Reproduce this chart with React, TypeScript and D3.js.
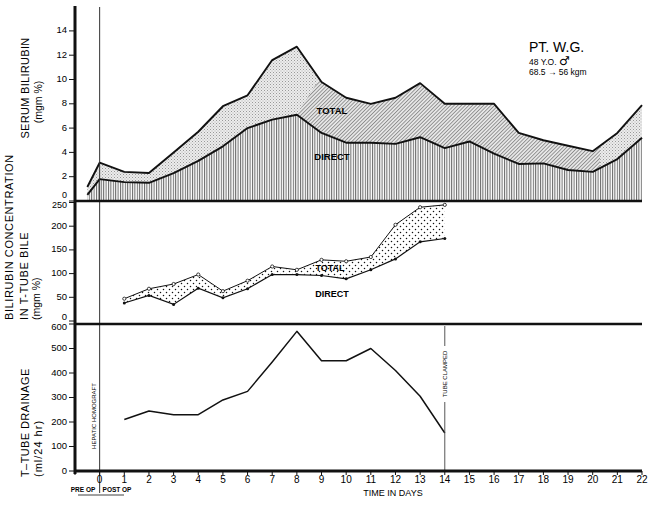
import React from "react";
import * as d3 from "d3";

// ---------- DATA ----------
const serumDays = [-0.5, 0, 1, 2, 3, 4, 5, 6, 7, 8, 9, 10, 11, 12, 13, 14, 15, 16, 17, 18, 19, 20, 21, 22];
const serumTotal = [1.15, 3.15, 2.4, 2.3, 4.0, 5.7, 7.8, 8.7, 11.6, 12.7, 9.8, 8.5, 8.0, 8.5, 9.7, 8.0, 8.0, 8.0, 5.6, 5.0, 4.55, 4.1, 5.6, 7.9];
const serumDirect = [0.5, 1.8, 1.55, 1.5, 2.3, 3.3, 4.5, 6.0, 6.7, 7.1, 5.6, 4.8, 4.8, 4.7, 5.25, 4.35, 4.9, 3.9, 3.05, 3.1, 2.55, 2.4, 3.45, 5.2];

const bileDays = [1, 2, 3, 4, 5, 6, 7, 8, 9, 10, 11, 12, 13, 14];
const bileTotal = [47, 68, 78, 98, 63, 85, 115, 108, 129, 126, 135, 203, 240, 245];
const bileDirect = [38, 54, 35, 69, 49, 68, 98, 98, 96, 89, 108, 131, 167, 174];

const drainDays = [1, 2, 3, 4, 5, 6, 7, 8, 9, 10, 11, 12, 13, 14];
const drainage = [210, 245, 230, 230, 290, 325, 445, 570, 450, 450, 500, 410, 305, 155];

const dayTicks = d3.range(0, 23);
const serumTicks = [0, 2, 4, 6, 8, 10, 12, 14];
const bileTicks = [0, 50, 100, 150, 200, 250];
const drainTicks = [0, 100, 200, 300, 400, 500, 600];

const FONT = "'Liberation Sans', Arial, Helvetica, sans-serif";

export default function App() {
  const x = d3.scaleLinear().domain([-1, 22]).range([75, 642]);
  const yTop = d3.scaleLinear().domain([0, 16]).range([201, 6.6]);
  const yMid = d3.scaleLinear().domain([0, 250]).range([321, 202.5]);
  const yBot = d3.scaleLinear().domain([0, 600]).range([471, 324]);

  const serum = serumDays.map((d, i) => ({ day: d, total: serumTotal[i], direct: serumDirect[i] }));
  const bile = bileDays.map((d, i) => ({ day: d, total: bileTotal[i], direct: bileDirect[i] }));
  const drain = drainDays.map((d, i) => ({ day: d, v: drainage[i] }));

  const directArea = d3.area<any>().x(d => x(d.day)).y0(yTop(0)).y1(d => yTop(d.direct))(serum) || "";
  const totalBand = d3.area<any>().x(d => x(d.day)).y0(d => yTop(d.direct)).y1(d => yTop(d.total))(serum) || "";
  const totalLine = d3.line<any>().x(d => x(d.day)).y(d => yTop(d.total))(serum) || "";
  const directLine = d3.line<any>().x(d => x(d.day)).y(d => yTop(d.direct))(serum) || "";

  const bileBand = d3.area<any>().x(d => x(d.day)).y0(d => yMid(d.direct)).y1(d => yMid(d.total))(bile) || "";
  const bileTotalLine = d3.line<any>().x(d => x(d.day)).y(d => yMid(d.total))(bile) || "";
  const bileDirectLine = d3.line<any>().x(d => x(d.day)).y(d => yMid(d.direct))(bile) || "";

  const drainLine = d3.line<any>().x(d => x(d.day)).y(d => yBot(d.v))(drain) || "";

  // dense-tone clip region (screen tone artefact in the original)
  const p0x = x(8), p0y = yTop(7.1);
  const p1x = x(8.9), p1y = yTop(10);
  const slope = (p1x - p0x) / (p1y - p0y);
  const topY = 6, botY = 201;
  const cx0 = p0x + slope * (botY - p0y);
  const cx1 = p0x + slope * (topY - p0y);
  const rightX = x(20.3);
  const densePoly = `${cx0},${botY} ${cx1},${topY} ${rightX},${topY} ${rightX},${botY}`;

  const x0 = x(-1), x1 = x(22);

  return (
    <svg width={655} height={505} style={{ position: "fixed", left: 0, top: 0, background: "#fff" }} fontFamily={FONT}>
      <defs>
        <pattern id="vlines" width="2.4" height="4" patternUnits="userSpaceOnUse">
          <rect width="2.4" height="4" fill="#fff" />
          <rect x="0" width="1" height="4" fill="#666" />
        </pattern>
        <pattern id="stip" width="3" height="3" patternUnits="userSpaceOnUse">
          <rect width="3" height="3" fill="#ececec" />
          <rect x="0" y="0" width="1" height="1" fill="#999" />
          <rect x="1.5" y="1.5" width="1" height="1" fill="#b0b0b0" />
        </pattern>
        <pattern id="diag" width="2.6" height="2.6" patternUnits="userSpaceOnUse" patternTransform="rotate(45)">
          <rect width="2.6" height="2.6" fill="#e8e8e8" />
          <rect width="0.9" height="2.6" fill="#8c8c8c" />
        </pattern>
        <pattern id="dots" width="6" height="6" patternUnits="userSpaceOnUse">
          <rect width="6" height="6" fill="#fff" />
          <circle cx="1.5" cy="1.5" r="0.75" fill="#111" />
          <circle cx="4.5" cy="4.5" r="0.75" fill="#111" />
        </pattern>
        <clipPath id="denseClip">
          <polygon points={densePoly} />
        </clipPath>
      </defs>

      {/* ---------- TOP PANEL: SERUM BILIRUBIN ---------- */}
      <path d={directArea} fill="url(#vlines)" />
      <path d={totalBand} fill="url(#stip)" />
      <path d={totalBand} fill="url(#diag)" clipPath="url(#denseClip)" />
      <path d={totalLine} fill="none" stroke="#111" strokeWidth={1.9} strokeLinejoin="round" />
      <path d={directLine} fill="none" stroke="#111" strokeWidth={1.9} strokeLinejoin="round" />
      <text x={332} y={111} fontSize={9.5} fontWeight="bold" textAnchor="middle" dominantBaseline="middle">TOTAL</text>
      <text x={332} y={157} fontSize={9.5} fontWeight="bold" textAnchor="middle" dominantBaseline="middle">DIRECT</text>

      {serumTicks.map(t => (
        <g key={"st" + t}>
          <line x1={69} x2={75} y1={yTop(t)} y2={yTop(t)} stroke="#111" strokeWidth={1} />
          <text x={67} y={t === 0 ? yTop(t) - 5.5 : yTop(t)} fontSize={t === 0 ? 9 : 9.5} textAnchor="end" dominantBaseline="middle">{t}</text>
        </g>
      ))}

      <text transform={`translate(26,88) rotate(-90)`} fontSize={11} letterSpacing={0.3} textAnchor="middle" dominantBaseline="middle">SERUM BILIRUBIN</text>
      <text transform={`translate(39,102) rotate(-90)`} fontSize={10.5} textAnchor="middle" dominantBaseline="middle">(mgm %)</text>

      <text x={529} y={52} fontSize={14}>PT. W.G.</text>
      <text x={529} y={65} fontSize={8.5}>48 Y.O. <tspan fontSize={12} fontFamily="'DejaVu Sans'">♂</tspan></text>
      <text x={529} y={75} fontSize={8.5}>68.5 → 56 kgm</text>

      {/* ---------- MIDDLE PANEL: T-TUBE BILE ---------- */}
      <path d={bileBand} fill="url(#dots)" />
      <path d={bileTotalLine} fill="none" stroke="#111" strokeWidth={1} />
      <path d={bileDirectLine} fill="none" stroke="#111" strokeWidth={1.2} />
      {bile.map(d => (
        <g key={"bp" + d.day}>
          <circle cx={x(d.day)} cy={yMid(d.total)} r={1.6} fill="#fff" stroke="#111" strokeWidth={0.8} />
          <circle cx={x(d.day)} cy={yMid(d.direct)} r={1.5} fill="#111" />
        </g>
      ))}
      <text x={330} y={269} fontSize={9} fontWeight="bold" textAnchor="middle" dominantBaseline="middle">TOTAL</text>
      <text x={332} y={295} fontSize={9} fontWeight="bold" textAnchor="middle" dominantBaseline="middle">DIRECT</text>

      {bileTicks.map(t => (
        <g key={"bt" + t}>
          <line x1={69} x2={75} y1={yMid(t)} y2={yMid(t)} stroke="#111" strokeWidth={1} />
          <text x={67} y={t === 0 ? yMid(t) - 3.5 : t === 250 ? yMid(t) + 3.5 : yMid(t)} fontSize={t === 250 ? 9 : 9.5} textAnchor="end" dominantBaseline="middle">{t}</text>
        </g>
      ))}
      <text transform={`translate(13,320) rotate(-90)`} fontSize={11} letterSpacing={0.6}>BILIRUBIN CONCENTRATION</text>
      <text transform={`translate(28,320) rotate(-90)`} fontSize={11} letterSpacing={0.6}>IN T-TUBE BILE</text>
      <text transform={`translate(40,320) rotate(-90)`} fontSize={10.5}>(mgm %)</text>

      {/* ---------- BOTTOM PANEL: T-TUBE DRAINAGE ---------- */}
      <path d={drainLine} fill="none" stroke="#111" strokeWidth={1.5} strokeLinejoin="round" />
      {drainTicks.map(t => (
        <g key={"dt" + t}>
          <line x1={69} x2={75} y1={yBot(t)} y2={yBot(t)} stroke="#111" strokeWidth={1} />
          <text x={67} y={t === 600 ? yBot(t) + 3 : yBot(t)} fontSize={9.5} textAnchor="end" dominantBaseline="middle">{t}</text>
        </g>
      ))}
      <text transform={`translate(29,477) rotate(-90)`} fontSize={11} letterSpacing={0.4}>T–TUBE DRAINAGE</text>
      <text transform={`translate(42,477) rotate(-90)`} fontSize={11} letterSpacing={1}>(ml/24 hr)</text>

      {/* tube clamped marker */}
      <line x1={x(14)} x2={x(14)} y1={326} y2={346} stroke="#444" strokeWidth={0.9} />
      <line x1={x(14)} x2={x(14)} y1={402} y2={471} stroke="#444" strokeWidth={0.9} />
      <text transform={`translate(${x(14) + 2},374) rotate(-90)`} fontSize={6} textAnchor="middle">TUBE  CLAMPED</text>

      {/* hepatic homograft */}
      <text transform={`translate(${x(0) - 4},416) rotate(-90)`} fontSize={6} textAnchor="middle">HEPATIC  HOMOGRAFT</text>

      {/* ---------- FRAME ---------- */}
      <line x1={x(0)} x2={x(0)} y1={7} y2={493} stroke="#333" strokeWidth={1} />
      <line x1={x0} x2={x1} y1={201} y2={201} stroke="#111" strokeWidth={2.5} />
      <line x1={x0} x2={x1} y1={324} y2={324} stroke="#111" strokeWidth={2.5} />
      <line x1={x0} x2={x1} y1={471} y2={471} stroke="#111" strokeWidth={2.8} />
      <line x1={x0} x2={x0} y1={6} y2={474} stroke="#111" strokeWidth={3} />

      {d3.range(-1, 23).map(d => (
        <line key={"xt" + d} x1={x(d)} x2={x(d)} y1={471} y2={475} stroke="#111" strokeWidth={1} />
      ))}
      {dayTicks.map(d => (
        <text key={"xl" + d} x={x(d)} y={480.5} fontSize={10} textAnchor="middle" dominantBaseline="middle">{d}</text>
      ))}
      <text x={393} y={494} fontSize={9} textAnchor="middle" dominantBaseline="middle">TIME IN DAYS</text>

      <text x={83} y={492} fontSize={6.5} fontWeight="bold" textAnchor="middle">PRE  OP</text>
      <text x={117} y={492} fontSize={6.5} fontWeight="bold" textAnchor="middle">POST  OP</text>
      <line x1={78} x2={124} y1={495} y2={495} stroke="#111" strokeWidth={0.8} />
    </svg>
  );
}
